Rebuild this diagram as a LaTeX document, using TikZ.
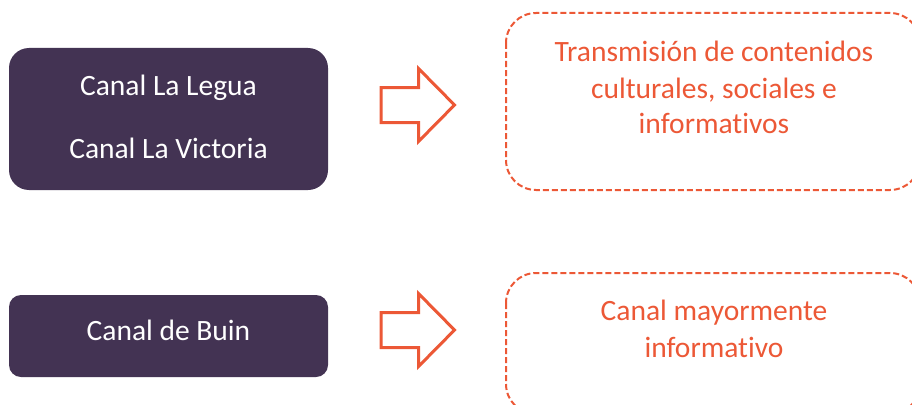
\documentclass[tikz,border=0pt]{standalone}
\usepackage{fontspec}
\setmainfont[Ligatures=NoCommon]{Carlito}
\definecolor{boxpurple}{HTML}{433353}
\definecolor{accent}{HTML}{EC5836}
\tikzset{
  srcbox/.style={fill=boxpurple, draw=none, text=white, inner sep=0pt, align=center},
  dstbox/.style={draw=accent, line width=2pt, dash pattern=on 6pt off 3pt, text=accent, inner sep=0pt, align=center},
  bigarrow/.style={draw=accent, line width=3pt, fill=white, line join=miter},
  lbl/.style={font=\fontsize{29.5}{36}\selectfont, align=center, inner sep=0pt},
}
\begin{document}
\begin{tikzpicture}[x=1pt,y=-1pt]
\useasboundingbox (0,0) rectangle (912,404);
% source boxes
\node[srcbox, rounded corners=20pt, minimum width=319pt, minimum height=142pt] (src1) at (168.5,119) {};
\node[srcbox, rounded corners=12pt, minimum width=319pt, minimum height=82pt] (src2) at (168.5,336) {};
\node[lbl, text=white, anchor=base] (src1a) at (168.5,95) {Canal La Legua};
\node[lbl, text=white, anchor=base] (src1b) at (168.5,158) {Canal La Victoria};
\node[lbl, text=white, anchor=base] (src2a) at (168.5,340) {Canal de Buin};
% destination boxes
\begin{scope}
\clip (0,0) rectangle (912,404);
\draw[dstbox, rounded corners=30pt] (506,13) rectangle (920,190);
\draw[dstbox, rounded corners=30pt] (506,273) rectangle (920,414);
\end{scope}
\node[lbl, text=accent, anchor=base] (dst1a) at (714,62) {Transmisión de contenidos};
\node[lbl, text=accent, anchor=base] (dst1b) at (714,98) {culturales, sociales e};
\node[lbl, text=accent, anchor=base] (dst1c) at (714,133) {informativos};
\node[lbl, text=accent, anchor=base] (dst2a) at (714,320) {Canal mayormente};
\node[lbl, text=accent, anchor=base] (dst2b) at (714,357) {informativo};
% arrows
\coordinate (a1) at (381,105);
\coordinate (a2) at (381,330);
\foreach \c in {a1,a2}{
  \draw[bigarrow] (\c) ++(0,-17.5) -- ++(37.5,0) -- ++(0,-19) -- ++(36,36.5) -- ++(-36,36.5) -- ++(0,-19) -- ++(-37.5,0) -- cycle;
}
\end{tikzpicture}
\end{document}
